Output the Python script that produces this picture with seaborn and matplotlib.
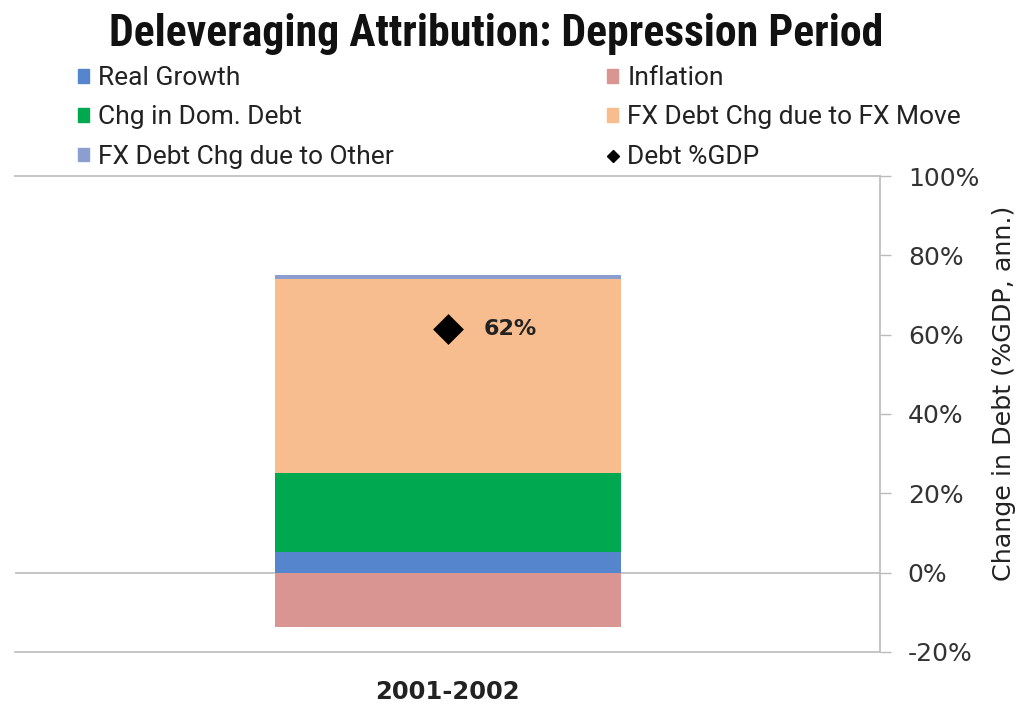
import matplotlib
matplotlib.use("Agg")
import matplotlib.pyplot as plt
import seaborn as sns
import pandas as pd
from matplotlib.patches import Patch
from matplotlib.lines import Line2D

# ---- data ----
period = ["2001-2002"]
real_growth = [5.2]
chg_dom_debt = [19.9]
fx_move = [48.9]
fx_other = [1.0]
inflation = [-13.7]
debt_gdp = [61.5]
debt_label = ["62%"]

colors = {"Real Growth": "#5585cc", "Chg in Dom. Debt": "#00a84f",
          "FX Debt Chg due to FX Move": "#f8bd8e", "FX Debt Chg due to Other": "#8c9ed0",
          "Inflation": "#d99592"}

yticks = [-20, 0, 20, 40, 60, 80, 100]

sns.set_theme(style="white")
narrow = ["Roboto Condensed", "Lato", "DejaVu Sans"]
legfont = ["Roboto", "DejaVu Sans"]
plt.rcParams["font.family"] = ["DejaVu Sans"]

fig = plt.figure(figsize=(10.23, 7.04), dpi=100)
ax = fig.add_axes([0.0147, 0.0739, 0.8455, 0.6761])

x = list(range(len(period)))
pos_stack = [("Real Growth", real_growth), ("Chg in Dom. Debt", chg_dom_debt),
             ("FX Debt Chg due to FX Move", fx_move), ("FX Debt Chg due to Other", fx_other)]
bottom = [0.0] * len(period)
for name, vals in pos_stack:
    ax.bar(x, vals, width=0.4, bottom=bottom, color=colors[name], linewidth=0)
    bottom = [b + v for b, v in zip(bottom, vals)]
ax.bar(x, inflation, width=0.4, color=colors["Inflation"], linewidth=0)

df = pd.DataFrame({"x": x, "y": debt_gdp})
sns.scatterplot(data=df, x="x", y="y", marker="D", s=230, color="black",
                edgecolor="black", linewidth=0.5, ax=ax, zorder=5)
for xi, yi, lab in zip(x, debt_gdp, debt_label):
    ax.annotate(lab, (xi, yi), xytext=(26, 0), textcoords="offset points",
                va="center", ha="left", fontsize=16, fontweight="bold", color="#222222")

ax.axhline(0, color="#bbbbbb", lw=1.2, zorder=0)
ax.set_xlim(-0.5, 0.5)
ax.set_ylim(-20, 100)
ax.set_xticks(x)
ax.set_xticklabels(period, fontsize=17.5, fontweight="bold", color="#222222")
ax.tick_params(axis="x", length=0, pad=20)
ax.yaxis.tick_right()
ax.set_yticks(yticks)
ax.set_yticklabels([f"{t}%" for t in yticks], fontsize=18, color="#333333")
ax.tick_params(axis="y", right=True, length=8, width=1, color="#bbbbbb", pad=12)
ax.set_ylabel("Change in Debt (%GDP, ann.)", fontsize=18.3, color="#222222",
              rotation=90, va="center", ha="center")
ax.yaxis.set_label_coords(1.143, 0.544)
ax.set_xlabel("")
for s in ["top", "bottom", "right"]:
    ax.spines[s].set_color("#bbbbbb")
    ax.spines[s].set_linewidth(1.2)
ax.spines["left"].set_visible(False)

fig.text(0.485, 0.951, "Deleveraging Attribution: Depression Period", ha="center", va="center",
         fontsize=31.5, fontweight="bold", family=narrow, color="#111111")

handles = [Patch(color=colors["Real Growth"]), Patch(color=colors["Chg in Dom. Debt"]),
           Patch(color=colors["FX Debt Chg due to Other"]), Patch(color=colors["Inflation"]),
           Patch(color=colors["FX Debt Chg due to FX Move"]),
           Line2D([], [], marker="D", color="black", linestyle="none", markersize=6)]
labels = ["Real Growth", "Chg in Dom. Debt", "FX Debt Chg due to Other",
          "Inflation", "FX Debt Chg due to FX Move", "Debt %GDP"]
leg = fig.legend(handles, labels, ncol=2, loc="upper left", bbox_to_anchor=(0.066, 0.921),
                 frameon=False, handlelength=0.42, handleheight=0.42, handletextpad=0.33,
                 columnspacing=8.1, labelspacing=0.58, borderaxespad=0,
                 prop={"family": legfont, "size": 19})
for t in leg.get_texts():
    t.set_color("#222222")

fig.savefig("out.png", dpi=100)
